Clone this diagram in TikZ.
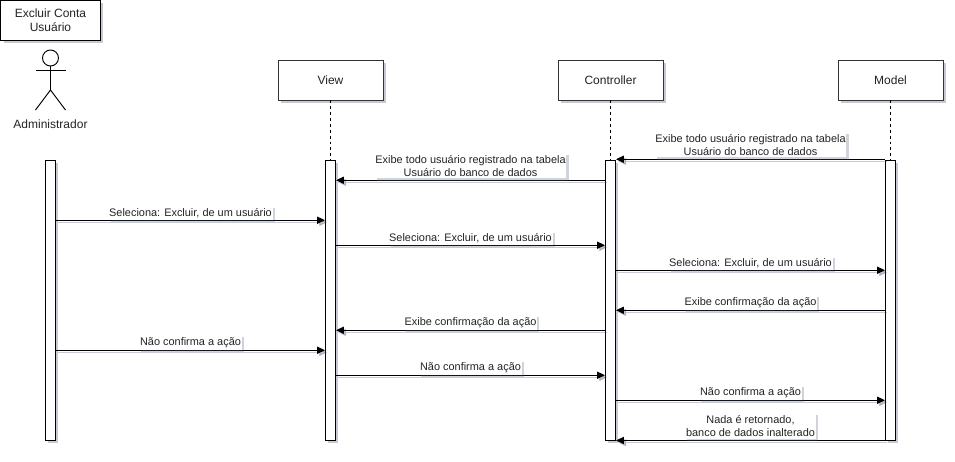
\documentclass[tikz,border=0pt]{standalone}
\usepackage{fontspec}
\setmainfont{Liberation Sans}
\usepackage{tikz}
\usetikzlibrary{arrows.meta,positioning,calc,shadows}
\definecolor{shadowc}{RGB}{70,80,110}
\definecolor{textc}{RGB}{35,35,35}
\tikzset{
  box/.style    ={draw=black!80,fill=white,line width=0.7pt,minimum width=78.75pt,minimum height=30pt,inner sep=0pt,
                  font=\fontsize{9pt}{10.5pt}\selectfont,text=textc,align=center,
                  drop shadow={shadow xshift=2pt,shadow yshift=-2pt,opacity=.3,fill=shadowc}},
  bar/.style    ={draw,fill=white,line width=0.7pt,minimum width=7.5pt,minimum height=210pt,inner sep=0pt,
                  drop shadow={shadow xshift=2pt,shadow yshift=-2pt,opacity=.3,fill=shadowc}},
  life/.style   ={dashed,line width=0.6pt,dash pattern=on 2.2pt off 2.2pt},
  msg/.style    ={-{Triangle[length=6pt,width=5.4pt]},line width=0.7pt,
                  preaction={draw=shadowc,opacity=.3,line width=0.9pt,transform canvas={xshift=1.6pt,yshift=-1.6pt}}},
  lbl/.style    ={fill=white,inner xsep=0.6pt,inner ysep=1.6pt,font=\fontsize{8.2pt}{9.7pt}\selectfont,text=textc,
                  align=center,drop shadow={shadow xshift=1.6pt,shadow yshift=-1.6pt,opacity=.25,fill=shadowc}},
  lbltwo/.style ={lbl,yshift=1pt},
  actor/.style  ={line width=0.7pt},
}
\begin{document}
\begin{tikzpicture}[x=0.75pt,y=0.75pt]
  \useasboundingbox (0,0) rectangle (955,-461);
  % title and actor
  \node[box,draw=black,minimum width=74.5pt] (title) at (50.5,-20) {Excluir Conta\\Usuário};
  \node[draw,circle,fill=white,actor,minimum size=12pt,inner sep=0pt] (head) at (50.5,-58) {};
  \coordinate (hip) at (50.5,-90);
  \coordinate (armL) at (35.5,-70);
  \coordinate (armR) at (65.5,-70);
  \coordinate (legL) at (35.5,-110);
  \coordinate (legR) at (65.5,-110);
  \draw[actor] (head.south) -- (hip);
  \draw[actor] (armL) -- (armR);
  \draw[actor] (legL) -- (hip) -- (legR);
  \node[font=\fontsize{9pt}{10.5pt}\selectfont,text=textc] (admin) at (50.5,-124) {Administrador};
  % lifeline heads
  \node[box] (view) at (330.5,-80) {View};
  \node[box] (ctrl) at (610.5,-80) {Controller};
  \node[box] (model) at (890.5,-80) {Model};
  % activation bars
  \draw[life] (view.south) -- (330.5,-160);
  \draw[life] (ctrl.south) -- (610.5,-160);
  \draw[life] (model.south) -- (890.5,-160);
  \node[bar] (barA) at (50.5,-300) {};
  \node[bar] (barV) at (330.5,-300) {};
  \node[bar] (barC) at (610.5,-300) {};
  \node[bar] (barM) at (890.5,-300) {};
  % messages
  \draw[msg] ($(barM.north west)+(0,0.3)$) -- ($(barC.north east)+(0,0.3)$)
        node[midway,above=0pt,lbltwo] (m1) {Exibe todo usuário registrado na tabela\\Usuário do banco de dados};
  \draw[msg] ($(barC.north west)+(0,-20.7)$) -- ($(barV.north east)+(0,-20.7)$)
        node[midway,above=0pt,lbltwo] (m2) {Exibe todo usuário registrado na tabela\\Usuário do banco de dados};
  \draw[msg] ($(barA.north east)+(0,-60.7)$) -- ($(barV.north west)+(0,-60.7)$)
        node[midway,above=0pt,lbl] (m3) {Seleciona: Excluir, de um usuário};
  \draw[msg] ($(barV.north east)+(0,-85.7)$) -- ($(barC.north west)+(0,-85.7)$)
        node[midway,above=0pt,lbl] (m4) {Seleciona: Excluir, de um usuário};
  \draw[msg] ($(barC.north east)+(0,-110.7)$) -- ($(barM.north west)+(0,-110.7)$)
        node[midway,above=0pt,lbl] (m5) {Seleciona: Excluir, de um usuário};
  \draw[msg] ($(barM.north west)+(0,-150.7)$) -- ($(barC.north east)+(0,-150.7)$)
        node[midway,above=0pt,lbl] (m6) {Exibe confirmação da ação};
  \draw[msg] ($(barC.north west)+(0,-170.7)$) -- ($(barV.north east)+(0,-170.7)$)
        node[midway,above=0pt,lbl] (m7) {Exibe confirmação da ação};
  \draw[msg] ($(barA.north east)+(0,-190.7)$) -- ($(barV.north west)+(0,-190.7)$)
        node[midway,above=0pt,lbl] (m8) {Não confirma a ação};
  \draw[msg] ($(barV.north east)+(0,-215.7)$) -- ($(barC.north west)+(0,-215.7)$)
        node[midway,above=0pt,lbl] (m9) {Não confirma a ação};
  \draw[msg] ($(barC.north east)+(0,-240.7)$) -- ($(barM.north west)+(0,-240.7)$)
        node[midway,above=0pt,lbl] (m10) {Não confirma a ação};
  \draw[msg] (barM.south west) -- (barC.south east)
        node[midway,above=0pt,lbltwo] (m11) {Nada é retornado,\\banco de dados inalterado};
\end{tikzpicture}
\end{document}
